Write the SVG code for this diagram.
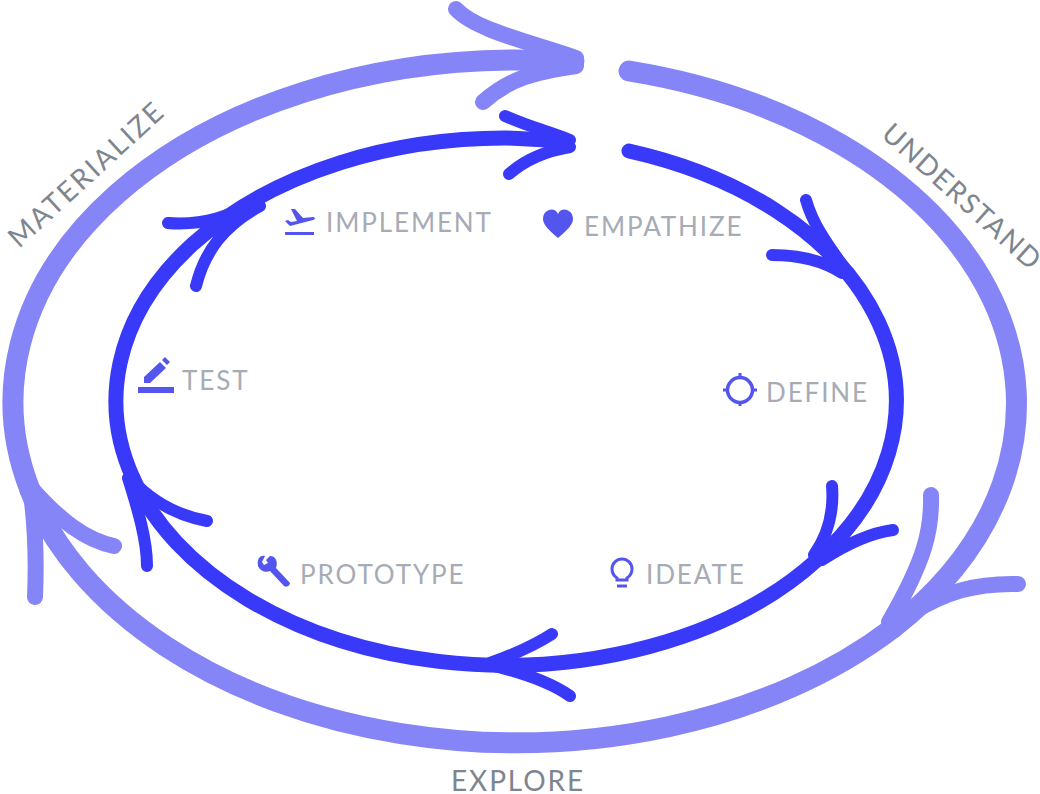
<svg xmlns="http://www.w3.org/2000/svg" width="1040" height="794" viewBox="0 0 1040 794">
<style>
.o{fill:none;stroke:#8585f7;stroke-width:21;stroke-linecap:round;stroke-linejoin:round}
.ob{fill:none;stroke:#8585f7;stroke-width:16;stroke-linecap:round;stroke-linejoin:round}
.i{fill:none;stroke:#3939f9;stroke-width:15;stroke-linecap:round;stroke-linejoin:round}
.ib{fill:none;stroke:#3939f9;stroke-width:12;stroke-linecap:round;stroke-linejoin:round}
.t{font-family:Lato,"Liberation Sans",sans-serif;font-size:26px;letter-spacing:1.9px;fill:#a6abb5}
.h{font-family:Lato,"Liberation Sans",sans-serif;font-size:28px;letter-spacing:1.5px;fill:#7f858e}
.g{fill:#5454ef}
.gs{fill:none;stroke:#5454ef}
</style>
<rect width="1040" height="794" fill="#fff"/>
<g id="connectors">
<g id="outer">
<path class="o" d="M629 71A504 342 0 0 1 893 628"/>
<path class="ob" d="M931 495C932 530 925 560 889 622M1018 584C975 583 945 592 910 614"/>
<path class="o" d="M893 628A504 342 0 0 1 30 490"/>
<path class="ob" d="M35 597C37 550 35 520 30 487M114 546C85 540 60 520 33 490"/>
<path class="o" d="M30 490A504 342 0 0 1 515 60L574 61"/>
<path class="ob" d="M456 9C475 30 530 42 576 58M483 102C510 78 535 72 576 66"/>
</g>
<g id="inner">
<path class="i" d="M629 151A389 263 0 0 1 818 559"/>
<path class="ib" d="M806 200C813 225 828 245 843 266M772 255C800 255 825 262 842 273"/>
<path class="ib" d="M832 486C834 510 828 535 814 555M893 530C870 533 845 545 822 560"/>
<path class="i" d="M818 559A389 263 0 0 1 133 478"/>
<path class="ib" d="M552 634C535 645 515 654 490 663M570 696C550 682 520 672 490 665"/>
<path class="i" d="M133 478A389 263 0 0 1 507 138L567 141"/>
<path class="ib" d="M147 566C147 540 138 510 128 478M207 521C175 515 150 500 130 478"/>
<path class="ib" d="M196 286C205 250 225 225 260 206M168 223C205 226 230 215 258 202"/>
<path class="ib" d="M505 116C530 127 550 132 570 140M509 174C525 160 545 151 570 147"/>
</g>
</g>
<g id="materialize"><text class="h" transform="translate(19 249) rotate(-42.5)" style="letter-spacing:2.3px">MATERIALIZE</text></g>
<g id="understand"><text class="h" transform="translate(880 136) rotate(42)">UNDERSTAND</text></g>
<g id="explore"><text class="h" x="451" y="791" style="letter-spacing:1.9px">EXPLORE</text></g>
<g id="empathize">
<path class="g" d="M558 238C550 231 543 225 543 219C543 209 555 206 558 214C561 206 573 209 573 219C573 225 566 231 558 238Z"/>
<text class="t" x="584" y="236">EMPATHIZE</text>
</g>
<g id="define">
<circle class="gs" cx="740" cy="390" r="12.5" stroke-width="3.5"/>
<path class="gs" stroke-width="3" d="M740 373V379M740 401V406M723 390H729M751 390H757"/>
<text class="t" x="766" y="402">DEFINE</text>
</g>
<g id="ideate">
<path class="gs" stroke-width="3" d="M617 580V578C614 576 612 573 612 569A10 10 0 0 1 632 569C632 573 630 576 627 578V580Z"/>
<path class="gs" stroke-width="3" d="M617 586H627"/>
<text class="t" x="646" y="584">IDEATE</text>
</g>
<g id="prototype">
<path class="g" d="M265 556C259 555 257 560 258 566C260 571 266 573 270 571L284 586C287 588 290 585 290 583L276 568C278 562 276 556 270 556L266 560L268 563L264 565L262 562Z"/>
<text class="t" x="300" y="584">PROTOTYPE</text>
</g>
<g id="test">
<path class="g" d="M144 377L160 362L166 368L150 383H144ZM162 360L165 357L170 362L167 365ZM138 387H174V393H138Z"/>
<text class="t" x="182" y="390">TEST</text>
</g>
<g id="implement">
<path class="g" d="M291 209H295L303 218L313 217C316 217 315 220 313 220L290 226L285 221L288 220L291 222L297 221ZM285 232H314V235H285Z"/>
<text class="t" x="326" y="232">IMPLEMENT</text>
</g>
</svg>
